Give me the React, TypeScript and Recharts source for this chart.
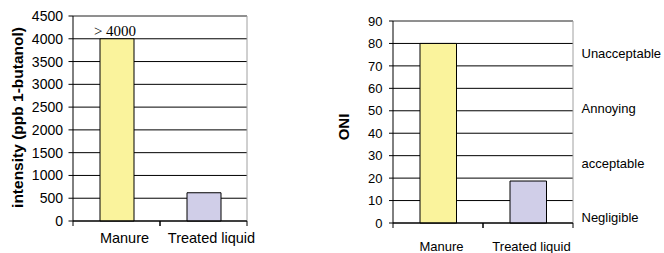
import { Bar, CartesianGrid, Cell, ComposedChart, Label, LabelList, ReferenceLine, XAxis, YAxis } from "recharts";

const samples = ["Manure", "Treated liquid"];
const intensity = [4000, 620];
const intensityNotes = ["> 4000", ""];
const intensityTicks = [0, 500, 1000, 1500, 2000, 2500, 3000, 3500, 4000, 4500];
const oni = [80, 18.7];
const oniTicks = [0, 10, 20, 30, 40, 50, 60, 70, 80, 90];
const ratingLevels = [2.5, 26.5, 51, 75.5];
const ratingLabels = ["Negligible", "acceptable", "Annoying", "Unacceptable"];
const barColors = ["#FAF39C", "#D0CEE8"];

const FONT = "'Liberation Sans', Arial, sans-serif";
const SERIF = "'Liberation Serif', 'Times New Roman', serif";
const GREY = "#A0A0A0";

const intensityData = samples.map((name, i) => ({ name, value: intensity[i], note: intensityNotes[i] }));
const oniData = samples.map((name, i) => ({ name, value: oni[i] }));

function sideTitle(text: string, size: number, dx: number, dy: number) {
  return (props: any) => {
    const vb = props.viewBox;
    const cx = vb.x + dx;
    const cy = vb.y + vb.height / 2 + dy;
    return (
      <text
        x={cx}
        y={cy}
        transform={`rotate(-90 ${cx} ${cy})`}
        textAnchor="middle"
        dominantBaseline="central"
        fontFamily={FONT}
        fontWeight="bold"
        fontSize={size}
        fill="#000"
      >
        {text}
      </text>
    );
  };
}

// category label plus Excel-style tick marks on the band edges
function bandTick(fontSize: number, dx: number, gap: number) {
  return (props: any) => {
    const { x, y, payload, width, visibleTicksCount } = props;
    const half = payload.offset || width / (visibleTicksCount * 2);
    return (
      <g>
        <line x1={x - half} x2={x - half} y1={y} y2={y + 5} stroke="#000" />
        <line x1={x + half} x2={x + half} y1={y} y2={y + 5} stroke="#000" />
        <text x={x + dx} y={y + gap} textAnchor="middle" fontSize={fontSize} fontFamily={FONT} fill="#000">
          {payload.value}
        </text>
      </g>
    );
  };
}

const rightBorder = (p: any) => [p.offset.left + p.offset.width];

function IntensityChart() {
  return (
    <ComposedChart width={290} height={253} data={intensityData} margin={{ top: 16, right: 43, left: 0, bottom: 0 }}>
      <CartesianGrid vertical={false} stroke="#000" />
      <CartesianGrid horizontal={false} verticalCoordinatesGenerator={rightBorder} stroke={GREY} />
      <XAxis
        dataKey="name"
        height={32}
        stroke="#000"
        tickLine={false}
        tickSize={0}
        tickMargin={0}
        tick={bandTick(14.5, 8, 22)}
      />
      <YAxis
        width={73}
        domain={[0, 4500]}
        ticks={intensityTicks}
        interval={0}
        tickSize={4.5}
        tickMargin={5.5}
        stroke="#000"
        tick={{ fontSize: 14, fill: "#000", fontFamily: FONT }}
      >
        <Label content={sideTitle("intensity (ppb 1-butanol)", 15.5, 17, -1)} />
      </YAxis>
      <ReferenceLine y={4500} stroke={GREY} />
      <Bar dataKey="value" barSize={34} stroke="#000" strokeWidth={1} isAnimationActive={false}>
        {intensityData.map((d, i) => (
          <Cell key={d.name} fill={barColors[i]} />
        ))}
        <LabelList
          dataKey="note"
          content={(p: any) =>
            p.value ? (
              <text x={p.x + p.width / 2 - 2} y={p.y - 3} textAnchor="middle" fontFamily={SERIF} fontSize={15} fill="#000">
                {p.value}
              </text>
            ) : null
          }
        />
      </Bar>
    </ComposedChart>
  );
}

function OniChart() {
  return (
    <ComposedChart width={334} height={253} data={oniData} margin={{ top: 21, right: 91, left: 0, bottom: 0 }}>
      <CartesianGrid vertical={false} stroke="#000" />
      <CartesianGrid horizontal={false} verticalCoordinatesGenerator={rightBorder} stroke={GREY} />
      <XAxis
        dataKey="name"
        height={30}
        stroke="#000"
        tickLine={false}
        tickSize={0}
        tickMargin={0}
        tick={bandTick(13, 3.5, 28)}
      />
      <YAxis
        width={63}
        domain={[0, 90]}
        ticks={oniTicks}
        interval={0}
        tickSize={4}
        tickMargin={6.5}
        stroke="#000"
        tick={{ fontSize: 13, fill: "#000", fontFamily: FONT }}
      >
        <Label content={sideTitle("ONI", 15, 13.5, 5)} />
      </YAxis>
      <ReferenceLine y={90} stroke={GREY} />
      {ratingLevels.map((lvl, i) => (
        <ReferenceLine
          key={ratingLabels[i]}
          y={lvl}
          stroke="none"
          label={{ value: ratingLabels[i], position: "right", offset: 8.5, fontSize: 13, fill: "#000", fontFamily: FONT }}
        />
      ))}
      <Bar dataKey="value" barSize={36.5} stroke="#000" strokeWidth={1} isAnimationActive={false}>
        {oniData.map((d, i) => (
          <Cell key={d.name} fill={barColors[i]} />
        ))}
      </Bar>
    </ComposedChart>
  );
}

export default function App() {
  return (
    <div style={{ position: "absolute", left: 0, top: 0, width: 664, height: 253, background: "#fff", fontFamily: FONT }}>
      <div style={{ position: "absolute", left: 0, top: 0 }}>
        <IntensityChart />
      </div>
      <div style={{ position: "absolute", left: 330, top: 0 }}>
        <OniChart />
      </div>
    </div>
  );
}
